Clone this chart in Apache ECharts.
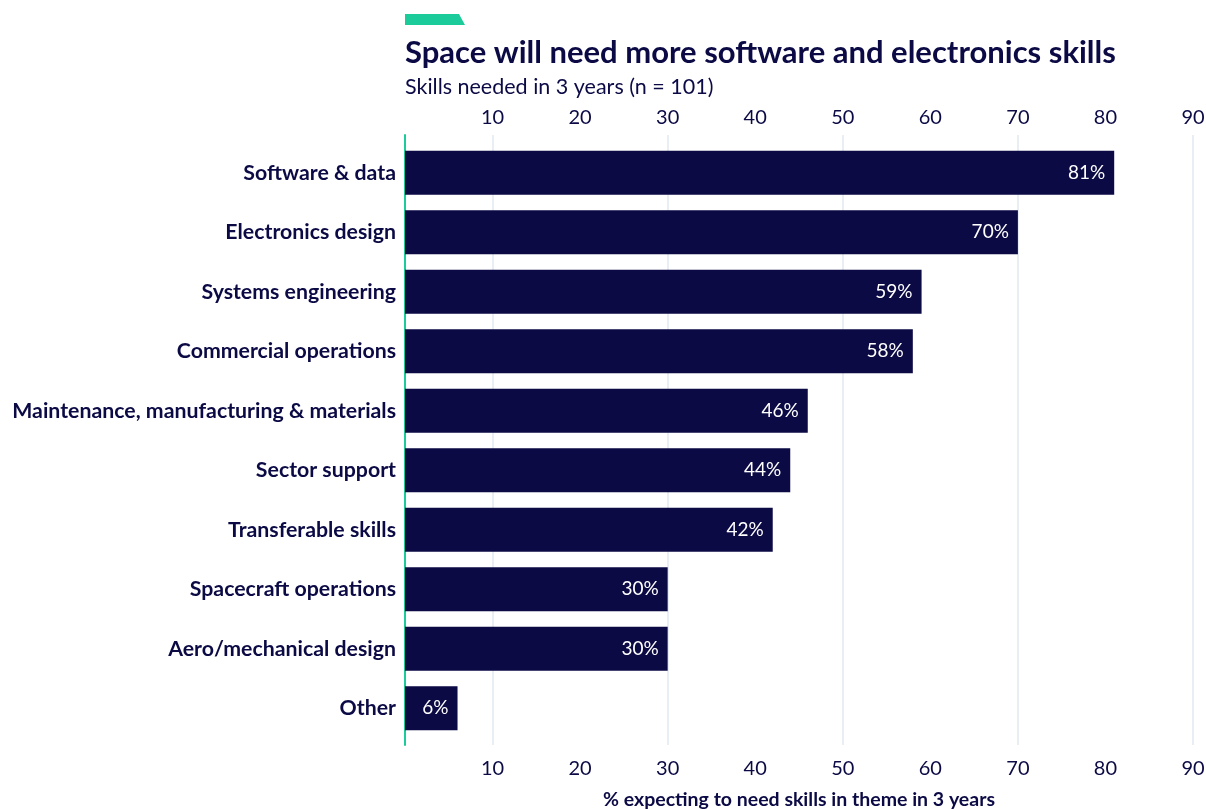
<!DOCTYPE html>
<html>
<head>
<meta charset="utf-8">
<script src="https://cdn.jsdelivr.net/npm/echarts@6/dist/echarts.min.js"></script>
<style>
  html, body { margin: 0; padding: 0; background: #ffffff; overflow: hidden; }
  #chart { width: 1206px; height: 809px; }
</style>
</head>
<body>
<div id="chart"></div>
<script>
// Skill themes, listed top to bottom
const categories = [
  'Software & data',
  'Electronics design',
  'Systems engineering',
  'Commercial operations',
  'Maintenance, manufacturing & materials',
  'Sector support',
  'Transferable skills',
  'Spacecraft operations',
  'Aero/mechanical design',
  'Other'
];
// Share of respondents expecting to need each theme (%)
const values = [81, 70, 59, 58, 46, 44, 42, 30, 30, 6];
const tickValues = [10, 20, 30, 40, 50, 60, 70, 80, 90];

const navy = '#0b0a45';
const teal = '#1ccb9a';
const font = 'Lato';

const chart = echarts.init(document.getElementById('chart'), null, { renderer: 'canvas' });

const tickLabel = {
  color: navy,
  fontFamily: font,
  fontSize: 20,
  formatter: v => (tickValues.indexOf(v) >= 0 ? String(v) : '')
};

chart.setOption({
  animation: false,
  textStyle: { fontFamily: font },
  title: [
    {
      text: 'Space will need more software and electronics skills',
      left: 400,
      top: 32,
      textStyle: { color: navy, fontFamily: font, fontSize: 31, fontWeight: 'bold' }
    },
    {
      text: 'Skills needed in 3 years (n = 101)',
      left: 400,
      top: 71,
      textStyle: { color: navy, fontFamily: font, fontSize: 21.5, fontWeight: 'normal' }
    }
  ],
  graphic: [
    {
      type: 'polygon',
      shape: { points: [[405, 14], [459, 14], [465, 25], [405, 25]] },
      style: { fill: teal }
    }
  ],
  grid: [
    // bars
    { left: 405, width: 788, top: 143, height: 595, containLabel: false, outerBoundsMode: 'none' },
    // gridlines and baseline, running a little past the bars
    { left: 405, width: 788, top: 135, height: 610, containLabel: false, outerBoundsMode: 'none' }
  ],
  xAxis: [
    {
      type: 'value', gridIndex: 0, position: 'bottom',
      min: 0, max: 90, interval: 10,
      axisLine: { show: false }, axisTick: { show: false },
      axisLabel: Object.assign({}, tickLabel, { margin: 21 }),
      splitLine: { show: false },
      name: '% expecting to need skills in theme in 3 years',
      nameLocation: 'middle',
      nameGap: 52,
      nameTextStyle: { color: navy, fontFamily: font, fontSize: 19.5, fontWeight: 'bold' }
    },
    {
      type: 'value', gridIndex: 0, position: 'top',
      min: 0, max: 90, interval: 10,
      axisLine: { show: false }, axisTick: { show: false },
      axisLabel: Object.assign({}, tickLabel, { margin: 15 }),
      splitLine: { show: false }
    },
    {
      type: 'value', gridIndex: 1,
      min: 0, max: 90, interval: 10,
      axisLine: { show: false }, axisTick: { show: false },
      axisLabel: { show: false },
      splitLine: {
        show: true,
        lineStyle: { color: ['transparent', '#e9edf4'], width: 2 }
      }
    }
  ],
  yAxis: [
    {
      type: 'category', gridIndex: 0,
      inverse: true,
      data: categories,
      axisLine: { show: false },
      axisTick: { show: false },
      axisLabel: {
        color: navy,
        fontFamily: font,
        fontSize: 21.3,
        fontWeight: 'bold',
        margin: 9
      }
    },
    {
      type: 'value', gridIndex: 1,
      min: 0, max: 1,
      axisLine: { show: true, lineStyle: { color: teal, width: 2 } },
      axisTick: { show: false },
      axisLabel: { show: false },
      splitLine: { show: false }
    }
  ],
  series: [
    {
      type: 'bar',
      xAxisIndex: 0,
      yAxisIndex: 0,
      data: values,
      barWidth: 44,
      z: 3,
      itemStyle: { color: navy },
      label: {
        show: true,
        position: 'insideRight',
        distance: 9,
        color: '#ffffff',
        fontFamily: font,
        fontSize: 19,
        formatter: p => p.value + '%'
      }
    }
  ]
});
</script>
</body>
</html>
